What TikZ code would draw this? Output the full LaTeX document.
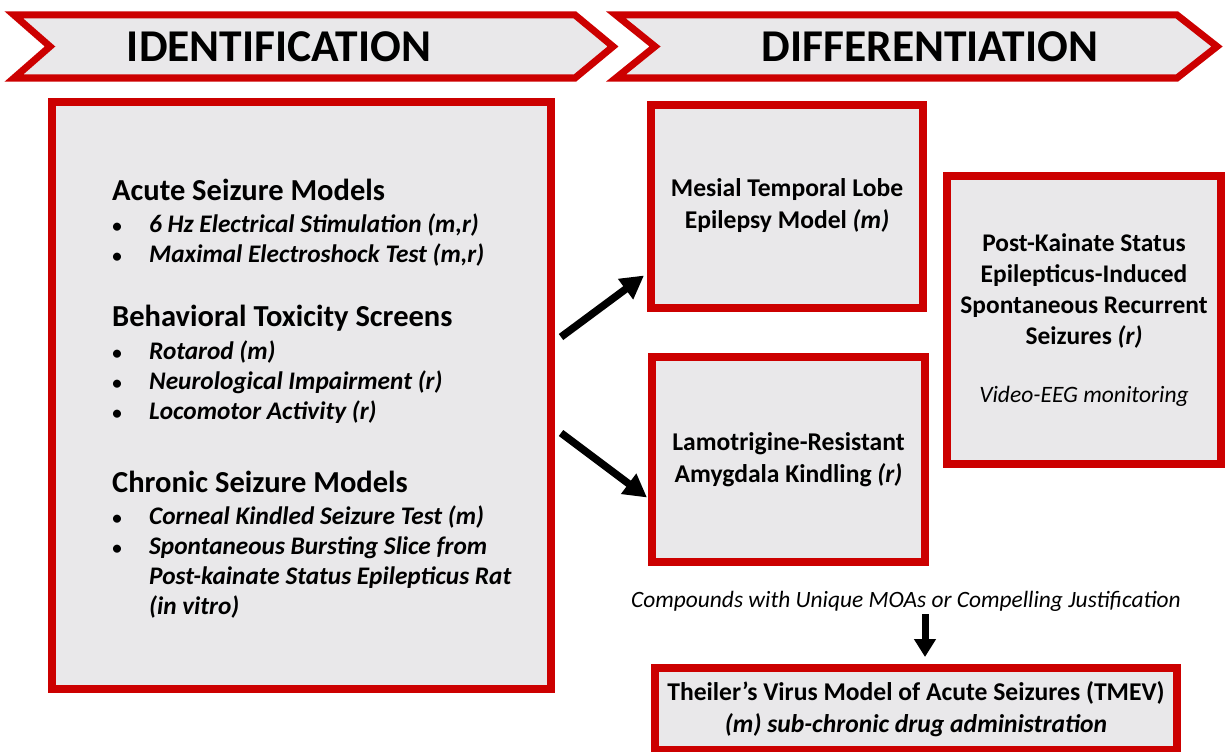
\documentclass[tikz,border=0pt]{standalone}
\usepackage{fontspec}
\setmainfont{Carlito}
\usetikzlibrary{arrows.meta,calc}
\definecolor{bred}{HTML}{CC0000}
\definecolor{bgray}{HTML}{E9E8EA}
\begin{document}
\begin{tikzpicture}[x=1pt,y=-1pt,
  redbox/.style={draw=bred,fill=bgray,line width=8pt,inner sep=0pt,align=center,
    font=\fontsize{25.6}{32}\selectfont\bfseries},
  chev/.style={draw=bred,fill=bgray,line width=7pt,line join=miter},
  chevtext/.style={font=\fontsize{45.5}{50}\selectfont\bfseries,inner sep=0pt},
  head/.style={anchor=base west,inner sep=0pt,font=\fontsize{30.5}{34}\selectfont\bfseries},
  item/.style={anchor=base west,inner sep=0pt,font=\fontsize{25.3}{30}\selectfont\bfseries\itshape},
  bul/.style={anchor=base,inner sep=0pt,font=\fontsize{19}{30}\selectfont\bfseries},
  bigarrow/.style={line width=7.5pt,-{Triangle[length=23pt,width=24pt]}},
  downarrow/.style={line width=7pt,-{Triangle[length=18pt,width=21pt]}}]
\useasboundingbox (0,0) rectangle (1226,752);
% chevrons
\draw[chev] (14,15) -- (575,15) -- (613,46.5) -- (575,78) -- (14,78) -- (50,46.5) -- cycle;
\draw[chev] (616,15) -- (1177,15) -- (1217,46.5) -- (1177,78) -- (616,78) -- (655,46.5) -- cycle;
\node[chevtext] (ident) at (279,47) {IDENTIFICATION};
\node[chevtext] (diff) at (930,47) {DIFFERENTIATION};
% boxes
\node[redbox,minimum width=499pt,minimum height=587pt] (idbox) at (301.5,395.5) {};
\node[redbox,minimum width=272pt,minimum height=203pt] (mesial) at (787,206)
  {Mesial Temporal Lobe\\Epilepsy Model \textit{(m)}};
\node[redbox,minimum width=273pt,minimum height=205pt] (lamo) at (788.5,459.5)
  {Lamotrigine-Resistant\\Amygdala Kindling \textit{(r)}};
\node[redbox,minimum width=274pt,minimum height=288pt,font=\fontsize{25.4}{31}\selectfont\bfseries] (pk) at (1084,320)
  {Post-Kainate Status\\Epilepticus-Induced\\Spontaneous Recurrent\\Seizures \textit{(r)}\\[27pt]
   {\mdseries\itshape\fontsize{23.5}{31}\selectfont Video-EEG monitoring}};
\node[redbox,minimum width=522pt,minimum height=82pt] (tmev) at (916,709)
  {Theiler’s Virus Model of Acute Seizures (TMEV)\\\textit{(m) sub-chronic drug administration}};
% left box content
\node[head] (h1) at (112,200) {Acute Seizure Models};
\node[bul] (b1) at (117,232) {•};
\node[item] (i1) at (149,232) {6 Hz Electrical Stimulation (m,r)};
\node[bul] (b2) at (117,262) {•};
\node[item] (i2) at (149,262) {Maximal Electroshock Test (m,r)};
\node[head] (h2) at (112,326) {Behavioral Toxicity Screens};
\node[bul] (b3) at (117,359) {•};
\node[item] (i3) at (149,359) {Rotarod (m)};
\node[bul] (b4) at (117,389) {•};
\node[item] (i4) at (149,389) {Neurological Impairment (r)};
\node[bul] (b5) at (117,419) {•};
\node[item] (i5) at (149,419) {Locomotor Activity (r)};
\node[head] (h3) at (112,492) {Chronic Seizure Models};
\node[bul] (b6) at (117,524) {•};
\node[item] (i6) at (149,524) {Corneal Kindled Seizure Test (m)};
\node[bul] (b7) at (117,554) {•};
\node[item] (i7) at (149,554) {Spontaneous Bursting Slice from};
\node[item] (i8) at (149,584) {Post-kainate Status Epilepticus Rat};
\node[item] (i9) at (149,614) {(in vitro)};
% compounds label
\node[inner sep=0pt,font=\fontsize{23.4}{26}\selectfont\itshape] (comp) at (906,601)
  {Compounds with Unique MOAs or Compelling Justification};
% arrows
\draw[bigarrow] ($(idbox.east)+(6,-58.5)$) -- ($(mesial.south west)+(-3,-36)$);
\draw[bigarrow] ($(idbox.east)+(6,37.5)$) -- ($(lamo.west)+(-1,38)$);
\draw[downarrow] (comp.south -| 925,0) ++(0,3) coordinate (dstart) -- ($(tmev.north -| 925,0)+(0,-7)$);
\end{tikzpicture}
\end{document}
